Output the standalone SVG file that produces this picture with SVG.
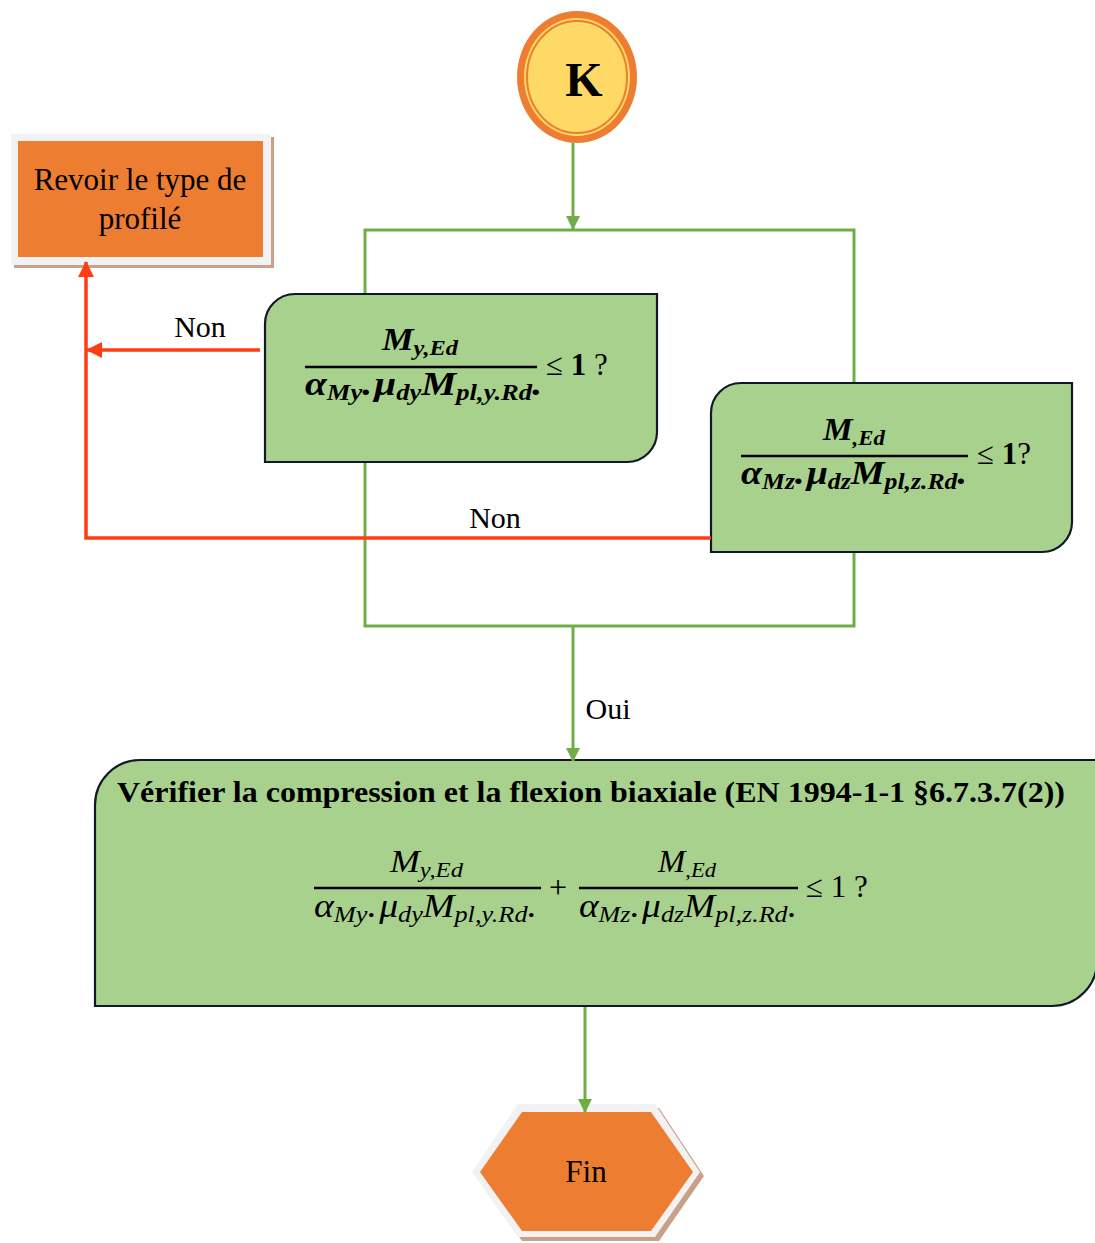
<svg xmlns="http://www.w3.org/2000/svg" width="1095" height="1243" viewBox="0 0 1095 1243">
<defs>
<marker id="ag" markerWidth="14" markerHeight="14" refX="13" refY="7" orient="auto" markerUnits="userSpaceOnUse"><path d="M0,0 L14,7 L0,14 Z" fill="#70AD47"/></marker>
<marker id="ar" markerWidth="16" markerHeight="16" refX="15" refY="8" orient="auto" markerUnits="userSpaceOnUse"><path d="M0,0 L16,8 L0,16 Z" fill="#FF3D14"/></marker>
<style>
.g{fill:none;stroke:#70AD47;stroke-width:3}
.r{fill:none;stroke:#FF3D14;stroke-width:3.5}
.box{fill:#A9D18E;stroke:#111827;stroke-width:2.2}
.t{font-family:'Liberation Serif','Times New Roman',serif;fill:#000}
.mb{font-family:'Liberation Serif','Times New Roman',serif;font-weight:bold;font-style:italic;fill:#000}
.mi{font-family:'Liberation Serif','Times New Roman',serif;font-style:italic;fill:#000}
.fl{stroke:#000;stroke-width:2.6}
</style>
</defs>
<g id="start">
<ellipse cx="577" cy="77" rx="60" ry="66" fill="#ED7D31"/>
<ellipse cx="577" cy="77" rx="53" ry="59" fill="#FFD966"/>
<ellipse cx="577" cy="77" rx="50" ry="56" fill="none" stroke="#ED7D31" stroke-width="2"/>
<text class="t" font-family="Liberation Serif, serif" x="584" y="96" font-size="48" font-weight="bold" text-anchor="middle">K</text>
</g>
<g id="revoir">
<rect x="14" y="137" width="260" height="131" fill="#C9A189"/>
<rect x="11" y="134" width="260" height="131" fill="#F2F2F2"/>
<rect x="18" y="141" width="245" height="116" fill="#ED7D31"/>
<text class="t" font-family="Liberation Serif, serif" x="140" y="190" font-size="31" text-anchor="middle">Revoir le type de</text>
<text class="t" font-family="Liberation Serif, serif" x="140" y="229" font-size="31" text-anchor="middle">profilé</text>
</g>
<g id="check-y">
<path class="box" d="M295,294 H657 V432 A30,30 0 0 1 627,462 H265 V324 A30,30 0 0 1 295,294 Z"/>
<text class="mb" x="382" y="350" font-size="32" textLength="76" lengthAdjust="spacingAndGlyphs">M<tspan font-size="22" dy="5">y,Ed</tspan></text>
<line class="fl" x1="305" y1="367" x2="537" y2="367"/>
<text class="mb" x="305" y="395" font-size="34" textLength="237" lengthAdjust="spacingAndGlyphs">α<tspan font-size="23" dy="5">My</tspan><tspan dy="-5">.</tspan><tspan dx="2">μ</tspan><tspan font-size="23" dy="5">dy</tspan><tspan dy="-5">M</tspan><tspan font-size="23" dy="5">pl,y.Rd</tspan><tspan dy="-5">.</tspan></text>
<text class="t" font-family="Liberation Serif, serif" x="546" y="375" font-size="31">≤ <tspan font-weight="bold">1</tspan> ?</text>
</g>
<g id="check-z">
<path class="box" d="M741,383 H1072 V522 A30,30 0 0 1 1042,552 H711 V413 A30,30 0 0 1 741,383 Z"/>
<text class="mb" x="823" y="440" font-size="32" textLength="62" lengthAdjust="spacingAndGlyphs">M<tspan font-size="22" dy="5">,Ed</tspan></text>
<line class="fl" x1="741" y1="456" x2="968" y2="456"/>
<text class="mb" x="741" y="484" font-size="34" textLength="226" lengthAdjust="spacingAndGlyphs">α<tspan font-size="23" dy="5">Mz</tspan><tspan dy="-5">.</tspan><tspan dx="2">μ</tspan><tspan font-size="23" dy="5">dz</tspan><tspan dy="-5">M</tspan><tspan font-size="23" dy="5">pl,z.Rd</tspan><tspan dy="-5">.</tspan></text>
<text class="t" font-family="Liberation Serif, serif" x="977" y="464" font-size="31">≤ <tspan font-weight="bold">1</tspan>?</text>
</g>
<g id="biaxial">
<path class="box" d="M140,760 H1097 V961 A45,45 0 0 1 1052,1006 H95 V805 A45,45 0 0 1 140,760 Z"/>
<text class="t" font-family="Liberation Serif, serif" x="117" y="802" font-size="30" font-weight="bold" textLength="948" lengthAdjust="spacingAndGlyphs">Vérifier la compression et la flexion biaxiale (EN 1994-1-1 §6.7.3.7(2))</text>
<text class="mi" x="390" y="872" font-size="32" textLength="73" lengthAdjust="spacingAndGlyphs">M<tspan font-size="22" dy="5">y,Ed</tspan></text>
<line class="fl" x1="314" y1="888" x2="541" y2="888"/>
<text class="mi" x="314" y="917" font-size="33" textLength="223" lengthAdjust="spacingAndGlyphs">α<tspan font-size="23" dy="5">My</tspan><tspan dy="-5">.</tspan><tspan dx="2">μ</tspan><tspan font-size="23" dy="5">dy</tspan><tspan dy="-5">M</tspan><tspan font-size="23" dy="5">pl,y.Rd</tspan><tspan dy="-5">.</tspan></text>
<text class="t" font-family="Liberation Serif, serif" x="558" y="898" font-size="32" text-anchor="middle">+</text>
<text class="mi" x="658" y="872" font-size="32" textLength="58" lengthAdjust="spacingAndGlyphs">M<tspan font-size="22" dy="5">,Ed</tspan></text>
<line class="fl" x1="579" y1="888" x2="798" y2="888"/>
<text class="mi" x="579" y="917" font-size="33" textLength="218" lengthAdjust="spacingAndGlyphs">α<tspan font-size="23" dy="5">Mz</tspan><tspan dy="-5">.</tspan><tspan dx="2">μ</tspan><tspan font-size="23" dy="5">dz</tspan><tspan dy="-5">M</tspan><tspan font-size="23" dy="5">pl,z.Rd</tspan><tspan dy="-5">.</tspan></text>
<text class="t" font-family="Liberation Serif, serif" x="806" y="897" font-size="31">≤ 1 ?</text>
</g>
<g id="fin">
<polygon points="522,1108 659,1108 704,1176 659,1241 522,1241 476,1176" fill="#C9A189"/>
<polygon points="518,1104 655,1104 700,1172 655,1237 518,1237 472,1172" fill="#F2F2F2"/>
<polygon points="522,1112 651,1112 693,1172 651,1231 522,1231 480,1172" fill="#ED7D31"/>
<text class="t" font-family="Liberation Serif, serif" x="586" y="1182" font-size="31" text-anchor="middle">Fin</text>
</g>
<g id="connectors">
<line class="g" x1="573" y1="143" x2="573" y2="229" marker-end="url(#ag)"/>
<polyline class="g" points="365,293 365,230 854,230 854,382"/>
<polyline class="g" points="365,463 365,626 854,626 854,553"/>
<line class="g" x1="573" y1="626" x2="573" y2="761" marker-end="url(#ag)"/>
<line class="g" x1="585" y1="1007" x2="585" y2="1112" marker-end="url(#ag)"/>
<line class="r" x1="260" y1="350" x2="87" y2="350" marker-end="url(#ar)"/>
<polyline class="r" points="711,538 86,538 86,262" marker-end="url(#ar)"/>
<text class="t" font-family="Liberation Serif, serif" x="200" y="337" font-size="30" text-anchor="middle">Non</text>
<text class="t" font-family="Liberation Serif, serif" x="495" y="528" font-size="30" text-anchor="middle">Non</text>
<text class="t" font-family="Liberation Serif, serif" x="608" y="719" font-size="30" text-anchor="middle">Oui</text>
</g>
</svg>
